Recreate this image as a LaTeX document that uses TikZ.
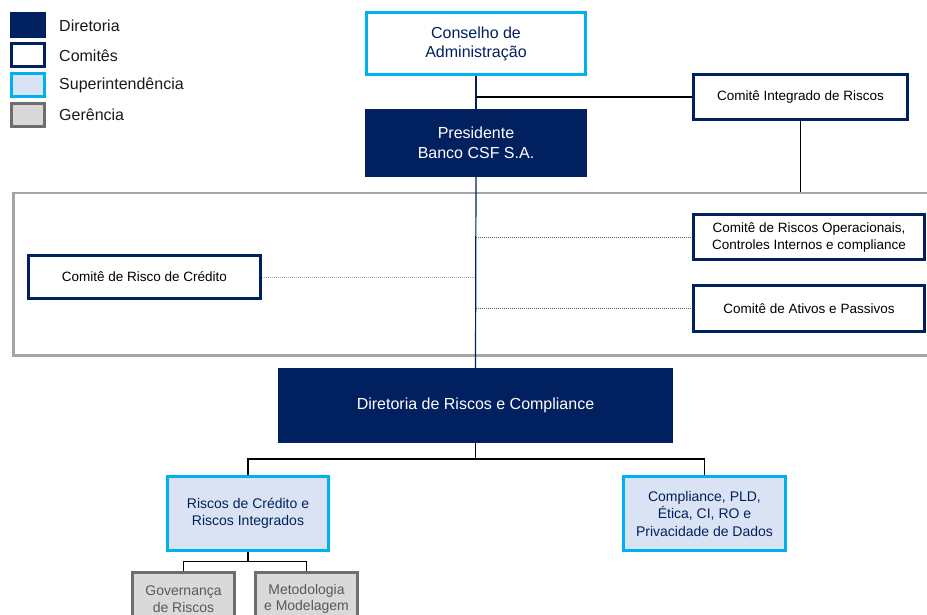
\documentclass[tikz,border=0pt]{standalone}
\usepackage{fontspec}
\setmainfont{Liberation Sans}
\usetikzlibrary{calc}
\definecolor{navy}{HTML}{002060}
\definecolor{cyanb}{HTML}{00B0F0}
\definecolor{lightb}{HTML}{DAE3F3}
\definecolor{gerb}{HTML}{6E6E6E}
\definecolor{gerf}{HTML}{D9D9D9}
\definecolor{gertext}{HTML}{595959}
\definecolor{frameg}{HTML}{A6A6A6}
\begin{document}
\begin{tikzpicture}[x=1pt,y=-1pt,
  every node/.style={inner sep=0pt, align=center},
  dirbox/.style={fill=navy, draw=none, text=white, font=\fontsize{16}{20}\selectfont},
  combox/.style={draw=navy, line width=3pt, fill=white, text=black, font=\fontsize{13.5}{17}\selectfont},
  conbox/.style={draw=cyanb, line width=3pt, fill=white, text=navy, font=\fontsize{16}{19}\selectfont},
  supbox/.style={draw=cyanb, line width=3pt, fill=lightb, text=navy, font=\fontsize{14}{17.5}\selectfont},
  gerbox/.style={draw=gerb, line width=3pt, fill=gerf, text=gertext, font=\fontsize{14}{16.5}\selectfont},
  legtxt/.style={anchor=west, text=black!90, font=\fontsize{16}{19}\selectfont},
  conn/.style={black, line width=1.5pt},
  spine/.style={navy, line width=1.2pt},
  dotdark/.style={draw=gertext, line width=0.9pt, dash pattern=on 1pt off 1pt},
  dotlight/.style={draw=frameg, line width=0.9pt, dash pattern=on 1pt off 1pt}]
\useasboundingbox (0,0) rectangle (927,615);
\clip (0,0) rectangle (927,615);
% legend
\node[dirbox, minimum width=36, minimum height=26] (l1) at (28,25) {};
\node[combox, minimum width=33, minimum height=23] (l2) at (28,55) {};
\node[supbox, minimum width=33, minimum height=23] (l3) at (28,85.5) {};
\node[gerbox, minimum width=33, minimum height=23] (l4) at (28,115) {};
\node[legtxt] (t1) at (59,26) {Diretoria};
\node[legtxt] (t2) at (59,56) {Comitês};
\node[legtxt] (t3) at (59,85) {Superintendência};
\node[legtxt] (t4) at (59,115) {Gerência};
% frame
\node[draw=frameg, line width=2.5pt, minimum width=960, minimum height=162, anchor=north west] (frame) at (12,192) {};
% top
\node[conbox, minimum width=219, minimum height=62] (cons) at (476,43.5) {Conselho de\\Administração};
\node[dirbox, minimum width=222, minimum height=68] (pres) at (476,143) {Presidente\\Banco CSF S.A.};
\node[combox, minimum width=214, minimum height=45] (cir) at (800.5,97) {Comitê Integrado de Riscos};
% committees
\node[combox, minimum width=231, minimum height=45] (crop) at (809,237) {Comitê de Riscos Operacionais,\\Controles Internos e compliance};
\node[combox, minimum width=231, minimum height=46] (cap) at (809,308.5) {Comitê de Ativos e Passivos};
\node[combox, minimum width=232, minimum height=43] (crc) at (144.5,277) {Comitê de Risco de Crédito};
% diretoria
\node[dirbox, minimum width=395, minimum height=75] (drc) at (475.5,405.5) {Diretoria de Riscos e Compliance};
\node[supbox, minimum width=161, minimum height=74] (rci) at (248,513.5) {Riscos de Crédito e\\Riscos Integrados};
\node[supbox, minimum width=162, minimum height=74] (cpl) at (704.5,513.5) {Compliance, PLD,\\Ética, CI, RO e\\Privacidade de Dados};
\node[gerbox, minimum width=102, minimum height=54, anchor=north] (gov) at (183.5,570.5) {Governança\\de Riscos};
\node[gerbox, minimum width=102, minimum height=54, anchor=north] (met) at (306.5,570.5) {Metodologia\\e Modelagem};
% connectors
\draw[spine] (cons.south) -- (pres.north);
\draw[spine] (pres.south) -- (drc.north);
\draw[conn] (cons.south |- cir.west) -- (cir.west);
\draw[conn] (cir.south) -- (cir.south |- frame.north);
\draw[dotdark] (pres.south |- crop.west) -- (crop.west);
\draw[dotdark] (pres.south |- cap.west) -- (cap.west);
\draw[dotlight] (crc.east) -- (crc.east -| pres.south);
\coordinate (j1) at ($(drc.south)+(0,16)$);
\draw[conn] (drc.south) -- (j1);
\draw[conn] (rci.north) |- (j1) -| (cpl.north);
\coordinate (j2) at ($(rci.south)+(0,9.5)$);
\draw[conn] (rci.south) -- (j2);
\draw[conn] (gov.north) |- (j2) -| (met.north);
\end{tikzpicture}
\end{document}
